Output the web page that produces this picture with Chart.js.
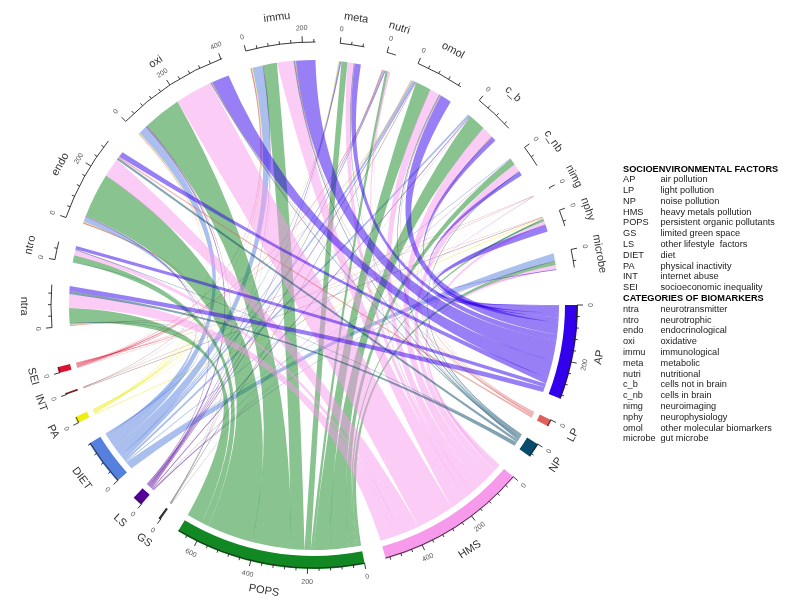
<!DOCTYPE html>
<html><head><meta charset="utf-8">
<style>
html,body{margin:0;padding:0;background:#fff;width:811px;height:608px;overflow:hidden}
#wrap{position:relative;width:811px;height:608px;filter:blur(0.5px)}
canvas{position:absolute;left:0;top:0}
#key{position:absolute;left:623px;top:163.5px;font:9.2px/10.8px "Liberation Sans",Arial,sans-serif;color:#1a1a1a;white-space:pre}
#key div{height:10.8px}
#key b{color:#000}
#key span{display:inline-block;width:37.5px}
</style></head><body>
<div id="wrap"><canvas id="c" width="811" height="608"></canvas><div id="key"></div></div>
<script src="https://cdn.jsdelivr.net/npm/chart.js@4"></script>
<script>
const factors = ["AP","LP","NP","HMS","POPS","GS","LS","DIET","PA","INT","SEI"];
const markers = ["ntra","ntro","endo","oxi","immu","meta","nutri","omol","c_b","c_nb","nimg","nphy","microbe"];
const factorSize = [333,24,51,536,674,8,35,163,22,6,21];
const markerSize = [150,64,307,405,246,85,32,170,142,77,5,58,64];

// links: one value per biomarker, in the order of `markers`
const linksAP   = [19,13,22,67,75,24,0,45,19,15,1,27,3];
const linksLP   = [0,0,6,3,4,1,1,3,2,0,0,1,0];
const linksNP   = [13,3,8,5,6,3,0,5,2,4,0,0,1];
const linksHMS  = [56,22,75,143,64,25,8,40,46,30,1,12,16];
const linksPOPS = [60,27,175,147,52,23,10,62,70,25,0,8,15];
const linksGS   = [0,0,1,2,1,1,0,2,1,0,0,0,0];
const linksLS   = [2,0,3,6,3,4,4,3,3,1,1,1,3];
const linksDIET = [5,3,20,32,40,4,6,12,7,3,0,3,28];
const linksPA   = [2,0,3,3,3,3,1,3,1,0,0,3,0];
const linksINT  = [0,0,1,0,2,0,0,0,0,0,1,2,0];
const linksSEI  = [3,0,4,2,3,0,4,2,0,0,2,1,0];
const links = [linksAP,linksLP,linksNP,linksHMS,linksPOPS,linksGS,linksLS,linksDIET,linksPA,linksINT,linksSEI];

const factorNotes = ["air pollution","light pollution","noise pollution","heavy metals pollution","persistent organic pollutants","limited green space","other lifestyle  factors","diet","physical inactivity","internet abuse","socioeconomic inequality"];
const markerKeyOrder = ["ntra","ntro","endo","oxi","immu","meta","nutri","c_b","c_nb","nimg","nphy","omol","microbe"];
const markerNotes = ["neurotransmitter","neurotrophic","endocrinological","oxidative","immunological","metabolic","nutritional","cells not in brain","cells in brain","neuroimaging","neurophysiology","other molecular biomarkers","gut microbe"];

// styling and layout
const bandColors = ["#3300ee","#e06060","#0a4a6a","#f79aeb","#118822","#333333","#550099","#5580dd","#eeee11","#772222","#dd1133"];
const gapDegrees = [5.1,4.5,5.7,4.7,4.6,4.8,5.1,5.1,5.3,4.6,8.7,5.5,5.5,5.7,5.4,5.4,5.1,5.2,5,5.4,5.5,5.1,5.3,8.2];
const UNITS_PER_DEGREE = 16;
const RIBBON_RATIO = 245/264, AXIS_RATIO = 263/264, TICK_MAJOR = 6, TICK_MINOR = 3;
// how deep a ribbon edge dips (fraction of radius) against the angle between its ends
const DEPTH_ANGLE = [0,60,107,146,162,180];
const DEPTH_RATIO = [0.5,0.48,0.32,0.19,0.13,0];

const sizes = factorSize.concat(markerSize);
const names = factors.concat(markers);
const slices = [], colors = [];
sizes.forEach((s,i)=>{
  slices.push(s); colors.push(i<factors.length?bandColors[i]:"rgba(0,0,0,0)");
  slices.push(gapDegrees[i]*UNITS_PER_DEGREE); colors.push("rgba(0,0,0,0)");
});

function alpha(hex,a){const n=parseInt(hex.slice(1),16);return `rgba(${n>>16},${(n>>8)&255},${n&255},${a})`;}
function sum(a){return a.reduce((x,y)=>x+y,0);}
function depth(deg){
  for(let i=1;i<DEPTH_ANGLE.length;i++) if(deg<=DEPTH_ANGLE[i]){
    const k=(deg-DEPTH_ANGLE[i-1])/(DEPTH_ANGLE[i]-DEPTH_ANGLE[i-1]);
    return DEPTH_RATIO[i-1]+k*(DEPTH_RATIO[i]-DEPTH_RATIO[i-1]);
  }
  return 0;
}

const chordPlugin = {
  id:"chord",
  afterDatasetsDraw(chart){
    const arcs = chart.getDatasetMeta(0).data, ctx = chart.ctx;
    const cx = arcs[0].x, cy = arcs[0].y, OR = arcs[0].outerRadius;
    const R = OR*RIBBON_RATIO, AR = OR*AXIS_RATIO;
    const span = i => ({a:arcs[2*i].startAngle, b:arcs[2*i].endAngle});
    const pt = (r,t)=>[cx+r*Math.cos(t), cy+r*Math.sin(t)];
    const nF = factors.length, nM = markers.length;

    const fEnd = [], mEnd = [];
    for(let f=0;f<nF;f++){
      const s = span(f), k = (s.b-s.a)/Math.max(1,sum(links[f]));
      let t = s.a; fEnd[f]=[];
      for(let m=nM-1;m>=0;m--){ fEnd[f][m]=[t,t+links[f][m]*k]; t+=links[f][m]*k; }
    }
    for(let m=0;m<nM;m++){
      const s = span(nF+m), tot = sum(links.map(r=>r[m])), k = (s.b-s.a)/Math.max(1,tot);
      let t = s.a; mEnd[m]=[];
      for(let f=nF-1;f>=0;f--){ mEnd[m][f]=[t,t+links[f][m]*k]; t+=links[f][m]*k; }
    }
    // one ribbon edge depends only on its two end angles, so neighbouring ribbons stay side by side
    function edge(t0,t1){
      const p1=pt(R,t1);
      const ux=Math.cos(t0)+Math.cos(t1), uy=Math.sin(t0)+Math.sin(t1);
      const len=Math.hypot(ux,uy)||1e-6;
      const halfCos=Math.min(1,len/2);
      const deg=2*Math.acos(halfCos)*180/Math.PI;
      const c=R*(2*depth(deg)-halfCos);
      ctx.quadraticCurveTo(cx+c*ux/len,cy+c*uy/len,p1[0],p1[1]);
    }
    ctx.save();
    for(let f=nF-1;f>=0;f--){
      ctx.fillStyle = alpha(bandColors[f],0.5);
      for(let m=0;m<nM;m++){
        if(!links[f][m]) continue;
        const [a0,a1]=fEnd[f][m], [b0,b1]=mEnd[m][f];
        ctx.beginPath();
        ctx.arc(cx,cy,R,a0,a1);
        edge(a1,b0);
        ctx.arc(cx,cy,R,b0,b1);
        edge(b1,a0);
        ctx.closePath();
        ctx.fill();
      }
    }
    // axes
    ctx.textAlign="center"; ctx.textBaseline="middle";
    sizes.forEach((size,i)=>{
      const s = span(i), perUnit=(s.b-s.a)/size;
      ctx.strokeStyle="#222"; ctx.lineWidth=0.9;
      ctx.beginPath(); ctx.arc(cx,cy,AR,s.a,s.b); ctx.stroke();
      for(let v=0;v<=size;v+=40){
        const t = s.a+v*perUnit, major = v%200===0;
        const p0=pt(AR,t), p1=pt(AR+(major?TICK_MAJOR:TICK_MINOR),t);
        ctx.beginPath(); ctx.moveTo(p0[0],p0[1]); ctx.lineTo(p1[0],p1[1]); ctx.stroke();
        if(major) label(String(v),AR+14,t,"7px",'#555');
      }
      label(names[i],AR+27,(s.a+s.b)/2,"11px",'#333');
    });
    function label(text,r,t,size,color){
      const p=pt(r,t);
      let deg=((t*180/Math.PI)%360+360)%360;
      const rot = deg<180 ? deg-90 : deg+90;
      ctx.save(); ctx.translate(p[0],p[1]); ctx.rotate(rot*Math.PI/180);
      ctx.font=size+' "Liberation Sans",Arial,sans-serif'; ctx.fillStyle=color;
      ctx.fillText(text,0,0); ctx.restore();
    }
    ctx.restore();
  }
};

new Chart(document.getElementById("c"),{
  type:"doughnut",
  data:{labels:slices.map((_,i)=>i%2?"":names[i/2]),
        datasets:[{data:slices,backgroundColor:colors,borderWidth:0,hoverOffset:0}]},
  options:{
    responsive:false,animation:false,rotation:90,cutout:"95.08%",
    layout:{padding:{left:50,top:41,right:233,bottom:39}},
    plugins:{legend:{display:false},tooltip:{enabled:false}},
    events:[]
  },
  plugins:[chordPlugin]
});

const key=document.getElementById("key");
function row(a,b){const d=document.createElement("div");d.innerHTML="<span></span>";d.firstChild.textContent=a;d.appendChild(document.createTextNode(b));key.appendChild(d);}
function head(t){const d=document.createElement("div");const b=document.createElement("b");b.textContent=t;d.appendChild(b);key.appendChild(d);}
head("SOCIOENVIRONMENTAL FACTORS");
factors.forEach((f,i)=>row(f,factorNotes[i]));
head("CATEGORIES OF BIOMARKERS");
markerKeyOrder.forEach((m,i)=>row(m,markerNotes[i]));
</script>
</body></html>
